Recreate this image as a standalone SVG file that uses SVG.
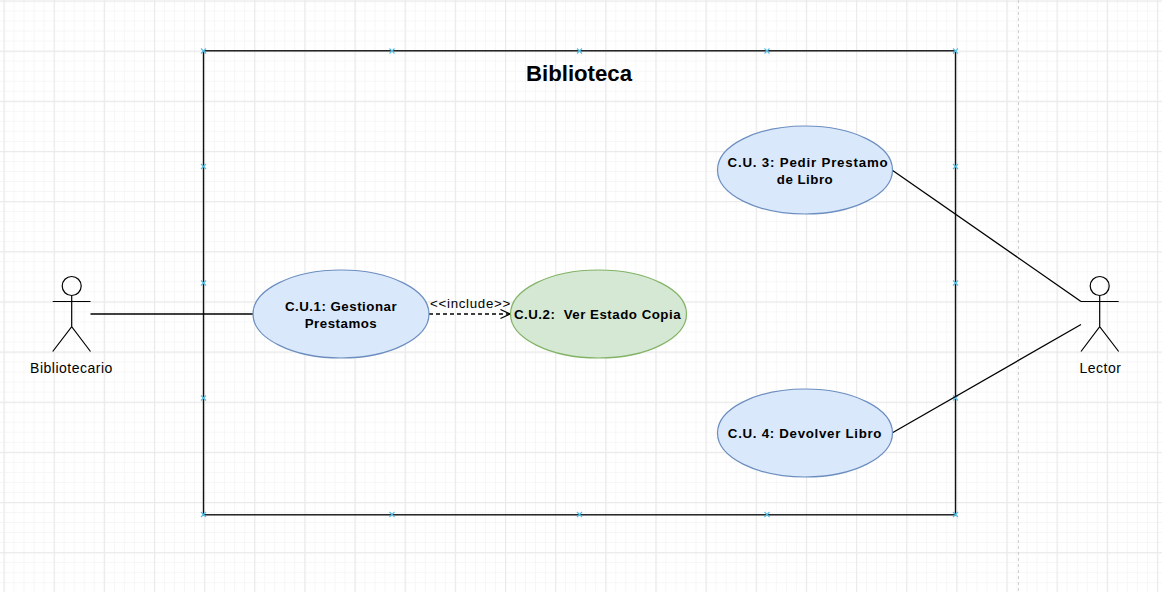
<svg xmlns="http://www.w3.org/2000/svg" width="1162" height="592" viewBox="0 0 1162 592">
<style>
.uc{stroke-width:1.2}
.blue{fill:#dae8fc;stroke:#6c8ebf}
.green{fill:#d5e8d4;stroke:#82b366}
.t{font-family:"Liberation Sans",Arial,sans-serif;fill:#000;text-anchor:middle;white-space:pre}
.b{font-size:13.3px;font-weight:bold;letter-spacing:.5px}
.n{font-size:14px;letter-spacing:.5px}
.line{fill:none;stroke:#000;stroke-width:1.3}
.actor{fill:none;stroke:#000;stroke-width:1.2}
.h{stroke:#55bde4;stroke-width:1.1;fill:none}
</style>
<defs>
<pattern id="minor" patternUnits="userSpaceOnUse" width="10.03" height="10.03" x="3.5" y="0.5">
<path d="M0 0H10.03M0 0V10.03" fill="none" stroke="#f6f6f6" stroke-width="2"/>
</pattern>
<pattern id="major" patternUnits="userSpaceOnUse" width="50.15" height="50.15" x="3.5" y="0.5">
<path d="M0 0H50.15M0 0V50.15" fill="none" stroke="#eaeaea" stroke-width="2.4"/>
</pattern>
<marker id="open" markerUnits="userSpaceOnUse" markerWidth="12" markerHeight="12" refX="10.5" refY="6" orient="auto">
<path d="M1 1.5L10.5 6L1 10.5" fill="none" stroke="#000" stroke-width="1.3"/>
</marker>
<path id="x" d="M-2.5-2.5L2.5 2.5M-2.5 2.5L2.5-2.5"/>
</defs>
<g id="background">
<rect width="1162" height="592" fill="#fff"/>
<rect width="1162" height="592" fill="url(#minor)"/>
<rect width="1162" height="592" fill="url(#major)"/>
<path d="M1018.5 0V592" stroke="#cfcfcf" stroke-width="1" stroke-dasharray="3 3"/>
</g>
<g id="system">
<rect x="203.5" y="50.8" width="752" height="464" fill="none" stroke="#111" stroke-width="1.4"/>
<text class="t" x="579" y="80.5" font-size="22.2" font-weight="bold">Biblioteca</text>
<g class="h">
<use href="#x" x="203.5" y="51"/><use href="#x" x="392" y="51"/><use href="#x" x="579.500" y="51"/><use href="#x" x="767" y="51"/><use href="#x" x="955.500" y="51"/>
<use href="#x" x="203.500" y="166.500"/><use href="#x" x="203.500" y="283"/><use href="#x" x="203.500" y="398"/>
<use href="#x" x="955.500" y="166.500"/><use href="#x" x="955.500" y="283"/><use href="#x" x="955.500" y="398"/>
<use href="#x" x="203.500" y="514.500"/><use href="#x" x="392" y="514.500"/><use href="#x" x="579.500" y="514.500"/><use href="#x" x="767" y="514.500"/><use href="#x" x="955.500" y="514.500"/>
</g>
</g>
<g id="connectors">
<path class="line" d="M90.500 314H253"/>
<path class="line" d="M429 314H510" stroke-dasharray="4 3" marker-end="url(#open)"/>
<path class="line" d="M892 170L1081 301.500"/>
<path class="line" d="M892 433L1081 324.500"/>
<text class="t" x="470.500" y="307.500" font-size="13.300" style="letter-spacing:.7px">&lt;&lt;include&gt;&gt;</text>
</g>
<g id="bibliotecario">
<g class="actor"><circle cx="71.700" cy="286" r="9.500"/><path d="M71.700 295.500V326.700M52.700 301.500H90.500M52.700 351.500L71.700 326.700L90.500 351.500"/></g>
<text class="t n" x="71.500" y="372.500">Bibliotecario</text>
</g>
<g id="lector">
<g class="actor"><circle cx="1099.700" cy="286" r="9.500"/><path d="M1099.700 295.500V326.700M1081 301.500H1118.700M1081 351.500L1099.700 326.700L1118.700 351.500"/></g>
<text class="t n" x="1100.500" y="372.500">Lector</text>
</g>
<g id="cu1">
<ellipse class="uc blue" cx="341" cy="314" rx="88" ry="44"/>
<text class="t b" x="341" y="311">C.U.1: Gestionar</text>
<text class="t b" x="341" y="328">Prestamos</text>
</g>
<g id="cu2">
<ellipse class="uc green" cx="598.500" cy="314" rx="88" ry="44"/>
<text class="t b" x="597.500" y="318.500">C.U.2:  Ver Estado Copia</text>
</g>
<g id="cu3">
<ellipse class="uc blue" cx="805" cy="170" rx="87.500" ry="44"/>
<text class="t b" x="808" y="167" style="letter-spacing:.8px">C.U. 3: Pedir Prestamo</text>
<text class="t b" x="805" y="184">de Libro</text>
</g>
<g id="cu4">
<ellipse class="uc blue" cx="805" cy="433" rx="87.500" ry="44"/>
<text class="t b" x="805" y="437.500" style="letter-spacing:.7px">C.U. 4: Devolver Libro</text>
</g>
</svg>
